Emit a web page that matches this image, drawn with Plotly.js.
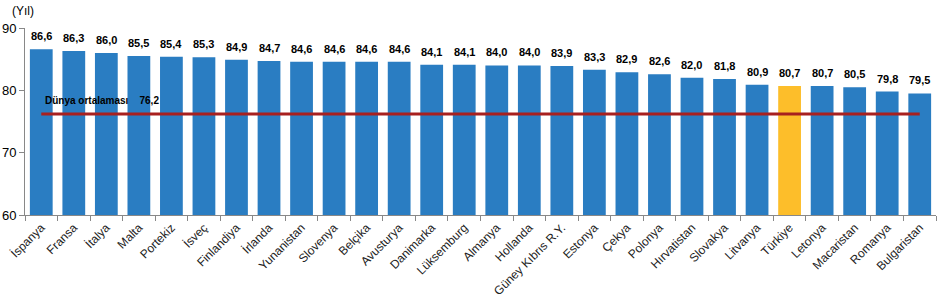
<!DOCTYPE html>
<html>
<head>
<meta charset="utf-8">
<script src="https://cdn.plot.ly/plotly-3.0.1.min.js"></script>
<style>
  html, body { margin: 0; padding: 0; background: #fff; }
  #chart { width: 941px; height: 300px; }
</style>
</head>
<body>
<div id="chart"></div>
<script>
// Doğuşta beklenen yaşam süresi (yıl)
const countries = ["İspanya", "Fransa", "İtalya", "Malta", "Portekiz", "İsveç", "Finlandiya", "İrlanda",
  "Yunanistan", "Slovenya", "Belçika", "Avusturya", "Danimarka", "Lüksemburg", "Almanya", "Hollanda",
  "Güney Kıbrıs R.Y.", "Estonya", "Çekya", "Polonya", "Hırvatistan", "Slovakya", "Litvanya", "Türkiye",
  "Letonya", "Macaristan", "Romanya", "Bulgaristan"];
const lifeExpectancy = [86.6, 86.3, 86.0, 85.5, 85.4, 85.3, 84.9, 84.7, 84.6, 84.6, 84.6, 84.6, 84.1, 84.1,
  84.0, 84.0, 83.9, 83.3, 82.9, 82.6, 82.0, 81.8, 80.9, 80.7, 80.7, 80.5, 79.8, 79.5];
const worldAverage = 76.2;
const highlight = "Türkiye";
const yTicks = [60, 70, 80, 90];

const fmt = v => v.toFixed(1).replace(".", ",");

const barColors = countries.map(c => c === highlight ? "#FDBE2A" : "#2A7DC2");

const bars = {
  type: "bar",
  x: countries,
  y: lifeExpectancy,
  marker: { color: barColors },
  width: 0.7,
  hoverinfo: "x+y",
  showlegend: false
};

const avgLine = {
  type: "scatter",
  mode: "lines",
  x: countries,
  y: countries.map(() => worldAverage),
  line: { color: "#A8201F", width: 3 },
  hoverinfo: "skip",
  showlegend: false
};

const valueLabels = countries.map((c, i) => ({
  x: c, y: lifeExpectancy[i], xref: "x", yref: "y",
  text: "<b>" + fmt(lifeExpectancy[i]) + "</b>",
  showarrow: false, yanchor: "bottom", yshift: 5,
  font: { family: "Liberation Sans, Arial, sans-serif", size: 11, color: "#000" }
}));

const layout = {
  width: 941, height: 300,
  margin: { l: 25, r: 5, t: 28, b: 85 },
  paper_bgcolor: "#fff", plot_bgcolor: "#fff",
  bargap: 0.3,
  font: { family: "Liberation Sans, Arial, sans-serif", color: "#000" },
  xaxis: {
    type: "category",
    tickangle: -45,
    tickfont: { size: 12, color: "#222" },
    showline: true, linecolor: "#888", linewidth: 1,
    ticks: "outside", tickson: "boundaries", ticklen: 5, tickcolor: "#888",
    showgrid: false, zeroline: false,
    automargin: false
  },
  yaxis: {
    range: [60, 90],
    tickvals: yTicks,
    tickfont: { size: 13, color: "#000" },
    showline: true, linecolor: "#888", linewidth: 1,
    ticks: "outside", ticklen: 5, tickcolor: "#888",
    showgrid: false, zeroline: false,
    automargin: false
  },
  annotations: valueLabels.concat([
    {
      xref: "paper", yref: "paper", x: -0.017, y: 1.045,
      xanchor: "left", yanchor: "bottom",
      text: "(Yıl)", showarrow: false,
      font: { size: 12, color: "#000" }
    },
    {
      xref: "x", yref: "y", x: countries[0], y: worldAverage,
      xanchor: "left", yanchor: "bottom", xshift: 2, yshift: 6,
      text: "<b>Dünya ortalaması&nbsp;&nbsp;&nbsp;&nbsp;" + fmt(worldAverage) + "</b>",
      showarrow: false,
      font: { size: 10, color: "#000" }
    }
  ])
};

Plotly.newPlot("chart", [bars, avgLine], layout, { displayModeBar: false, staticPlot: true });
</script>
</body>
</html>
